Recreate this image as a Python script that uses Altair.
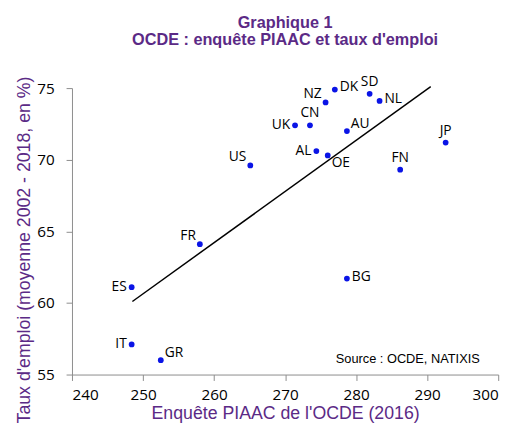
import altair as alt
import pandas as pd

codes = ["DK", "SD", "NL", "NZ", "UK", "CN", "AU", "JP", "AL", "OE",
         "US", "FN", "FR", "ES", "BG", "IT", "GR"]
piaac = [277.0, 281.9, 283.3, 275.7, 271.4, 273.5, 278.7, 292.6, 274.4, 276.0,
         265.1, 286.2, 258.0, 248.4, 278.7, 248.4, 252.5]
emploi = [74.9, 74.6, 74.1, 74.0, 72.4, 72.4, 72.0, 71.2, 70.6, 70.3,
          69.6, 69.3, 64.1, 61.1, 61.7, 57.1, 56.0]
trend_x = [248.5, 290.5]
trend_y = [60.1, 75.1]
x_ticks = [240, 250, 260, 270, 280, 290, 300]
y_ticks = [55, 60, 65, 70, 75]

# label placement group per country (style, not data)
placement = {"DK": "right", "NL": "right", "BG": "right",
             "AU": "rightup", "GR": "rightup",
             "UK": "left", "ES": "left", "IT": "left", "AL": "left",
             "NZ": "leftup", "US": "leftup", "FR": "leftup",
             "SD": "above", "CN": "above", "JP": "above", "FN": "above",
             "OE": "belowright"}

PURPLE = "#5B2A86"
df = pd.DataFrame({"code": codes, "x": piaac, "y": emploi})
df["pl"] = df["code"].map(placement)
trend = pd.DataFrame({"x": trend_x, "y": trend_y})

xs = alt.Scale(domain=[240, 300], nice=False, zero=False)
ys = alt.Scale(domain=[55, 75], nice=False, zero=False)

base = alt.Chart(df)
pts = base.mark_circle(size=34, color="#0A14E6", opacity=1).encode(
    x=alt.X("x:Q", scale=xs, title="Enquête PIAAC de l'OCDE (2016)",
            axis=alt.Axis(values=x_ticks)),
    y=alt.Y("y:Q", scale=ys, title="Taux d'emploi (moyenne 2002 - 2018, en %)",
            axis=alt.Axis(values=y_ticks, titleY=164)),
)
line = alt.Chart(trend).mark_line(color="black", strokeWidth=1.5).encode(
    x=alt.X("x:Q", scale=xs), y=alt.Y("y:Q", scale=ys))

specs = {"right": (5, -2, "left"), "rightup": (4, -7, "left"),
         "left": (-5, 0, "right"), "leftup": (-4, -8, "right"),
         "above": (0, -12, "center"), "belowright": (4, 8, "left")}
labels = []
for k, (dx, dy, al) in specs.items():
    labels.append(
        base.transform_filter(alt.datum.pl == k).mark_text(
            dx=dx, dy=dy, align=al, baseline="middle", font="Open Sans",
            fontSize=14, color="black").encode(
            x=alt.X("x:Q", scale=xs), y=alt.Y("y:Q", scale=ys), text="code:N"))

src = alt.Chart(pd.DataFrame({"x": [297.4], "y": [56.05], "t": ["Source : OCDE, NATIXIS"]})).mark_text(
    align="right", baseline="middle", font="Liberation Sans", fontSize=13, color="black").encode(
    x=alt.X("x:Q", scale=xs), y=alt.Y("y:Q", scale=ys), text="t:N")

chart = alt.layer(line, pts, *labels, src).properties(
    width=433, height=291,
    autosize=alt.AutoSizeParams(type="none"),
    padding={"left": 65, "top": 78, "right": 14, "bottom": 55},
    title=alt.TitleParams(["Graphique 1", "OCDE : enquête PIAAC et taux d'emploi"],
                          anchor="middle", font="Liberation Sans", fontSize=16.5,
                          fontWeight="bold", color=PURPLE, offset=27, lineHeight=17),
).configure_view(stroke=None).configure_axis(
    grid=False, domainColor="#8C8C8C", tickColor="#8C8C8C", tickSize=6,
    labelFont="Open Sans", labelFontSize=15.5, labelColor="black",
    titleFont="Liberation Sans", titleFontSize=18, titleColor=PURPLE,
    titleFontWeight="normal",
).configure_axisY(labelPadding=12, titlePadding=3).configure_axisX(labelPadding=7, titlePadding=2)

chart.save("out.html", embed_options={"renderer": "svg", "actions": False})
